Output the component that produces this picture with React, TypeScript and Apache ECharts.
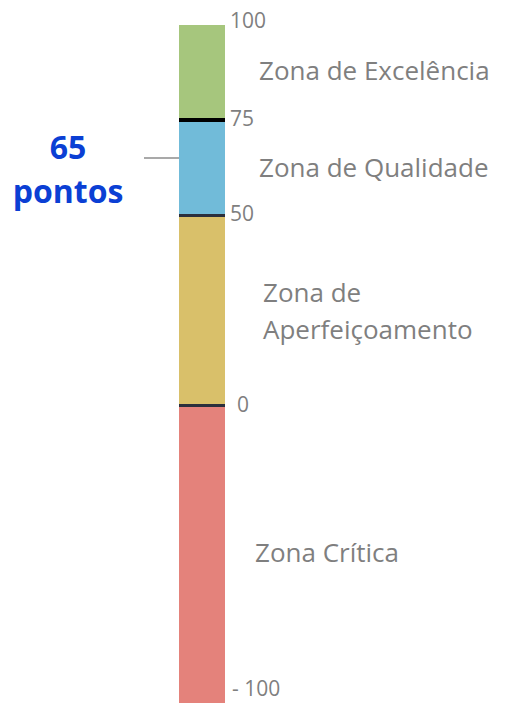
import React, { useEffect, useRef } from "react";
import * as echarts from "echarts";

const zoneNames = ["Zona de\nAperfeiçoamento", "Zona de Qualidade", "Zona de Excelência"];
const zoneSizes = [50, 25, 25]; // stacked from 0 upward
const zoneColors = ["#d9c06a", "#71bbd9", "#a6c67d"];
const criticalName = "Zona Crítica";
const criticalValue = [-100];
const criticalColor = "#e4827b";
const boundaries = [75, 50, 0];
const boundaryColors = ["#000000", "#2b2f3d", "#2b2f3d"];
const boundaryWidths = [4, 3, 3];
const score = 65;
const scoreUnit = "pontos";

const FONT = "'Open Sans', 'Noto Sans', sans-serif";
const GRAY = "#7f7f7f";

export default function App() {
  const ref = useRef<HTMLDivElement>(null);
  useEffect(() => {
    if (!ref.current) return;
    const chart = echarts.init(ref.current, null, { renderer: "svg" });
    const labelDistances = [38, 34, 34];
    const labelOffsets = [[0, 0], [0, -1], [0, -3]];
    const series: any[] = zoneSizes.map((v, i) => ({
      type: "bar",
      name: zoneNames[i],
      xAxisIndex: 0,
      yAxisIndex: 0,
      stack: "zones",
      barWidth: "100%",
      data: [v],
      itemStyle: { color: zoneColors[i] },
      label: {
        show: true,
        position: "right",
        distance: labelDistances[i],
        offset: labelOffsets[i],
        formatter: zoneNames[i],
        color: GRAY,
        fontFamily: FONT,
        fontSize: 26,
        lineHeight: 37,
        align: "left",
      },
      markLine:
        i === zoneSizes.length - 1
          ? {
              silent: true,
              symbol: "none",
              label: { show: false },
              data: boundaries.map((b, k) => ({
                yAxis: b,
                lineStyle: { color: boundaryColors[k], width: boundaryWidths[k], type: "solid" },
              })),
            }
          : undefined,
    }));
    series.push({
      type: "bar",
      name: criticalName,
      xAxisIndex: 1,
      yAxisIndex: 1,
      barWidth: "100%",
      data: criticalValue,
      itemStyle: { color: criticalColor },
      label: {
        show: true,
        position: "right",
        distance: 30,
        offset: [0, -2],
        formatter: criticalName,
        color: GRAY,
        fontFamily: FONT,
        fontSize: 26,
        align: "left",
      },
    });

    chart.setOption({
      animation: false,
      grid: [
        { left: 179, width: 46, top: 25, height: 380, containLabel: false, outerBoundsMode: "none" },
        { left: 179, width: 46, top: 405, height: 298, containLabel: false, outerBoundsMode: "none" },
      ],
      xAxis: [
        { type: "category", gridIndex: 0, data: ["score"], show: false },
        { type: "category", gridIndex: 1, data: ["score"], show: false },
      ],
      yAxis: [
        {
          type: "value",
          gridIndex: 0,
          position: "right",
          min: 0,
          max: 100,
          interval: 25,
          axisLine: { show: false },
          axisTick: { show: false },
          splitLine: { show: false },
          axisLabel: {
            margin: 5,
            color: GRAY,
            fontFamily: FONT,
            fontSize: 21,
            showMinLabel: true,
            showMaxLabel: true,
            formatter: (v: number) =>
              v === 100 ? "{t|100}" : v === 75 || v === 50 ? `{m|${v}}` : v === 0 ? "{z|0}" : "",
            rich: {
              t: { color: GRAY, fontFamily: FONT, fontSize: 21, padding: [0, 0, 10, 0] },
              m: { color: GRAY, fontFamily: FONT, fontSize: 21, padding: [0, 0, 5, 0] },
              z: { color: GRAY, fontFamily: FONT, fontSize: 21, padding: [0, 0, 2, 7] },
            },
          },
        },
        {
          type: "value",
          gridIndex: 1,
          position: "right",
          min: -100,
          max: 0,
          interval: 100,
          axisLine: { show: false },
          axisTick: { show: false },
          splitLine: { show: false },
          axisLabel: {
            margin: 7,
            color: GRAY,
            fontFamily: FONT,
            fontSize: 21,
            lineHeight: 30,
            verticalAlign: "bottom",
            showMinLabel: true,
            formatter: (v: number) => (v === -100 ? "- 100" : ""),
          },
        },
      ],
      series,
    });

    const y = chart.convertToPixel({ yAxisIndex: 0 } as any, score) as number;
    chart.setOption({
      graphic: [
        {
          type: "line",
          shape: { x1: 144, y1: y, x2: 197, y2: y },
          style: { stroke: "#8c8c8c", lineWidth: 1.5 },
          silent: true,
        },
        {
          type: "text",
          x: 68,
          y: y + 10,
          style: {
            text: `${score}\n${scoreUnit}`,
            fill: "#0b3fd4",
            font: `bold 32px ${FONT}`,
            lineHeight: 44,
            align: "center",
            verticalAlign: "middle",
          },
          silent: true,
        },
      ],
    });

    return () => chart.dispose();
  }, []);

  return (
    <div
      ref={ref}
      style={{ position: "absolute", left: 0, top: 0, width: 506, height: 703, background: "#fff" }}
    />
  );
}
